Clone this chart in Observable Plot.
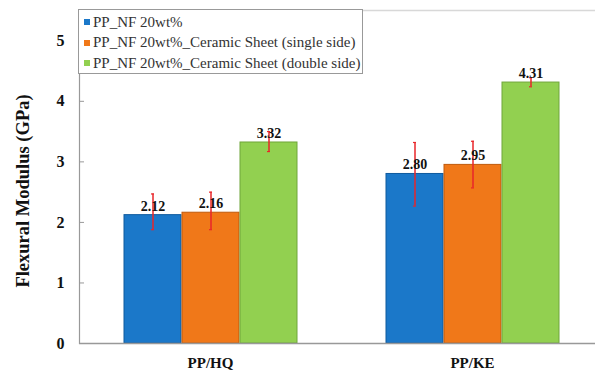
<!DOCTYPE html>
<html>
<head>
<meta charset="utf-8">
<script src="https://cdn.jsdelivr.net/npm/d3@7"></script>
<script src="https://cdn.jsdelivr.net/npm/@observablehq/plot@0.6"></script>
<style>
  html, body { margin: 0; padding: 0; background: #fff; }
  #wrap { position: relative; width: 595px; height: 376px; font-family: "Liberation Serif", "Times New Roman", serif; }
  #legend { position: absolute; left: 78px; top: 9px; width: 285px; height: 65px; border: 1px solid #999; background: #fff; padding-top: 2px; box-sizing: border-box; }
  .row { display: flex; align-items: center; height: 20.5px; font-size: 15px; color: #333; padding-left: 5px; white-space: nowrap; }
  .sw { width: 6px; height: 6px; margin-right: 3px; }
  #ytitle { position: absolute; left: 23px; top: 191px; transform: translate(-50%, -50%) rotate(-90deg); font-size: 18.5px; font-weight: bold; color: #111; white-space: nowrap; }
</style>
</head>
<body>
<div id="wrap"><div id="chart"></div><div id="legend"></div><div id="ytitle">Flexural Modulus (GPa)</div></div>
<script>
const categories = ["PP/HQ", "PP/KE"];
const series = ["PP_NF 20wt%", "PP_NF 20wt%_Ceramic Sheet (single side)", "PP_NF 20wt%_Ceramic Sheet (double side)"];
const colors = ["#1b78c9", "#f07819", "#92d050"];
const edgeColors = ["#0f5a9e", "#c05a0c", "#6fa63a"];
const valuesHQ = [2.12, 2.16, 3.32];
const valuesKE = [2.80, 2.95, 4.31];
const errLowHQ = [1.88, 1.88, 3.17];
const errHighHQ = [2.47, 2.50, 3.50];
const errLowKE = [2.27, 2.57, 4.24];
const errHighKE = [3.32, 3.34, 4.39];
const yTicks = [0, 1, 2, 3, 4, 5];

const data = [];
categories.forEach((c, ci) => {
  const vals = ci === 0 ? valuesHQ : valuesKE;
  const lo = ci === 0 ? errLowHQ : errLowKE;
  const hi = ci === 0 ? errHighHQ : errHighKE;
  series.forEach((s, si) => data.push({cat: c, series: s, value: vals[si], lo: lo[si], hi: hi[si]}));
});

const serif = "'Liberation Serif', 'Times New Roman', serif";
const chart = Plot.plot({
  width: 595,
  height: 376,
  marginLeft: 79,
  marginRight: 0,
  marginTop: 10,
  marginBottom: 33,
  style: {fontFamily: serif, background: "#fff"},
  fx: {domain: categories, range: [79, 603], padding: 0, label: null},
  x: {domain: series, axis: null, paddingInner: 0.02, paddingOuter: 0.74},
  y: {domain: [0, 5.5]},
  color: {domain: series, range: colors},
  marks: [
    Plot.ruleY([5.5], {stroke: "#d8d8d8", strokeWidth: 1.5}),
    Plot.barY(data, {fx: "cat", x: "series", y: "value", fill: "series", stroke: d => edgeColors[series.indexOf(d.series)], strokeWidth: 1}),
    Plot.ruleY([0], {stroke: "#999", strokeWidth: 1.5}),
    Plot.frame({anchor: "left", facetAnchor: "left", stroke: "#999", strokeWidth: 1.2}),
    Plot.ruleX(data, {fx: "cat", x: "series", y1: "lo", y2: "hi", stroke: "#e8262a", strokeWidth: 1.5}),
    Plot.tickY(data, {fx: "cat", x: "series", y: "hi", stroke: "#e8262a", strokeWidth: 1.2, insetLeft: 27, insetRight: 27}),
    Plot.tickY(data, {fx: "cat", x: "series", y: "lo", stroke: "#e8262a", strokeWidth: 1.2, insetLeft: 27, insetRight: 27}),
    Plot.text(data, {fx: "cat", x: "series", y: "value", text: d => d.value.toFixed(2), dy: -9, fontSize: 14, fontWeight: "bold", fill: "#111"}),
    Plot.axisY({ticks: yTicks, tickFormat: d3.format("d"), tickSize: -5, tickPadding: 20, stroke: "#999", fontSize: 16, fontWeight: "bold", fill: "#111", label: null}),
    Plot.axisFx({anchor: "bottom", tickSize: 0, tickPadding: 14, fontSize: 15, fontWeight: "bold", fill: "#111", label: null})
  ]
});
document.getElementById("chart").appendChild(chart);

const legend = document.getElementById("legend");
series.forEach((s, i) => {
  const row = document.createElement("div");
  row.className = "row";
  const sw = document.createElement("span");
  sw.className = "sw";
  sw.style.background = colors[i];
  row.appendChild(sw);
  row.appendChild(document.createTextNode(s));
  legend.appendChild(row);
});
</script>
</body>
</html>
